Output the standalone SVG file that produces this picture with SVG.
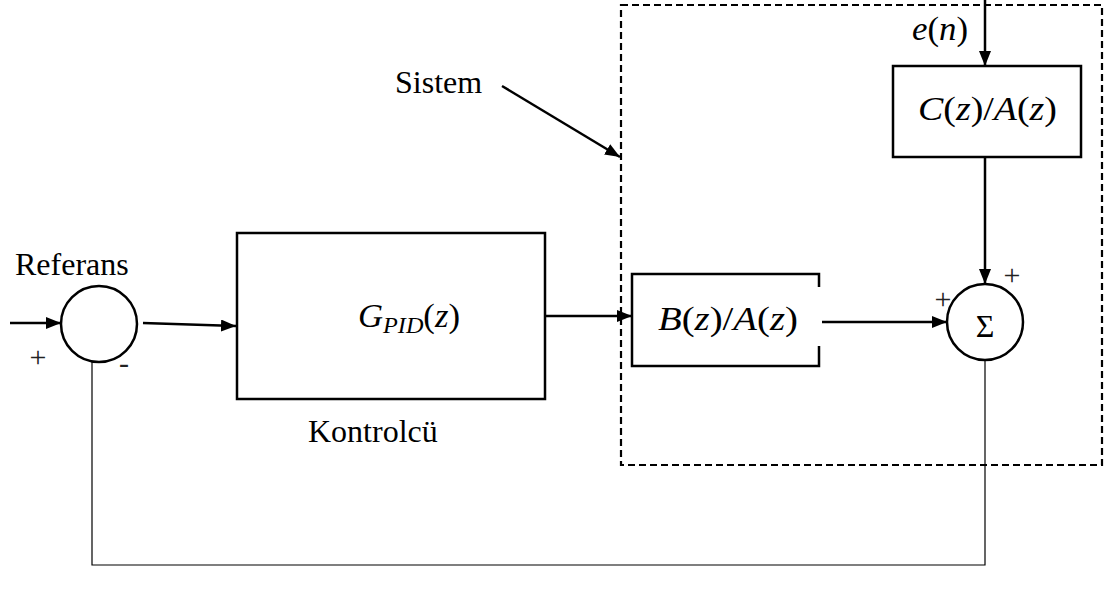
<svg xmlns="http://www.w3.org/2000/svg" width="1106" height="595" viewBox="0 0 1106 595">
  <defs>
    <marker id="arrow" viewBox="0 0 15 12" refX="15" refY="6" markerWidth="15" markerHeight="12" markerUnits="userSpaceOnUse" orient="auto">
      <path d="M0,0 L15,6 L0,12 Z" fill="#000"/>
    </marker>
    <style>
      .blk { fill: #fff; stroke: #000; stroke-width: 2.5; }
      .wire { fill: none; stroke: #000; stroke-width: 2.5; }
      .thin { fill: none; stroke: #000; stroke-width: 1.2; }
      .dash { fill: none; stroke: #000; stroke-width: 2.2; stroke-dasharray: 7 4; }
      .lbl { font-family: "Liberation Serif", "Times New Roman", serif; font-size: 32px; fill: #000; }
      .math { font-family: "Liberation Serif", "DejaVu Serif", serif; font-size: 33px; fill: #000; }
      .it { font-style: italic; }
      .sign { font-family: "Liberation Serif", serif; font-size: 30px; fill: #222; }
    </style>
  </defs>

  <!-- system boundary -->
  <rect id="system-boundary" class="dash" x="621" y="5" width="481" height="460"/>

  <!-- connectors -->
  <g id="connectors">
    <line class="wire" x1="10" y1="323" x2="61" y2="323" marker-end="url(#arrow)"/>
    <line class="wire" x1="143" y1="323" x2="236" y2="326" marker-end="url(#arrow)"/>
    <line class="wire" x1="545" y1="316" x2="632" y2="316" marker-end="url(#arrow)"/>
    <line class="wire" x1="822" y1="322" x2="947" y2="322" marker-end="url(#arrow)"/>
    <line class="wire" x1="985" y1="0" x2="985" y2="66" marker-end="url(#arrow)"/>
    <line class="wire" x1="985" y1="157" x2="985" y2="284" marker-end="url(#arrow)"/>
    <line class="wire" x1="502" y1="86" x2="620" y2="157" marker-end="url(#arrow)"/>
    <polyline class="thin" points="985,360 985,565 92,565 92,362"/>
  </g>

  <!-- reference summing junction -->
  <g id="sum-ref">
    <circle class="blk" cx="99" cy="324" r="38"/>
    <text class="sign" x="38" y="367" text-anchor="middle">+</text>
    <text class="sign" x="124" y="373" text-anchor="middle">-</text>
  </g>
  <text id="label-referans" class="lbl" x="15" y="275">Referans</text>

  <!-- controller -->
  <g id="controller">
    <rect class="blk" x="237" y="233" width="308" height="166"/>
    <text class="math" x="358" y="327" textLength="102" lengthAdjust="spacingAndGlyphs"><tspan class="it">G</tspan><tspan class="it" font-size="23" dy="6">PID</tspan><tspan dy="-6">(</tspan><tspan class="it">z</tspan>)</text>
  </g>
  <text id="label-kontrolcu" class="lbl" x="308" y="442">Kontrolcü</text>

  <!-- plant B/A: open bracket on the right -->
  <g id="plant">
    <path class="wire" d="M819,287 V274 H632 V366 H819 V346"/>
    <text class="math" x="658" y="330" textLength="140" lengthAdjust="spacingAndGlyphs"><tspan class="it">B</tspan>(<tspan class="it">z</tspan>)/<tspan class="it">A</tspan>(<tspan class="it">z</tspan>)</text>
  </g>

  <!-- disturbance filter C/A -->
  <g id="disturbance">
    <rect class="blk" x="893" y="66" width="188" height="91"/>
    <text class="math" x="918" y="120" textLength="139" lengthAdjust="spacingAndGlyphs"><tspan class="it">C</tspan>(<tspan class="it">z</tspan>)/<tspan class="it">A</tspan>(<tspan class="it">z</tspan>)</text>
  </g>
  <text id="label-noise" class="math" x="912" y="40" textLength="56" lengthAdjust="spacingAndGlyphs"><tspan class="it">e</tspan>(<tspan class="it">n</tspan>)</text>

  <!-- output summing junction -->
  <g id="sum-out">
    <circle class="blk" cx="985" cy="322" r="38"/>
    <text class="lbl" x="985" y="337" text-anchor="middle" font-size="34">Σ</text>
    <text class="sign" x="1012" y="285" text-anchor="middle">+</text>
    <text class="sign" x="943" y="309" text-anchor="middle">+</text>
  </g>

  <text id="label-sistem" class="lbl" x="395" y="93">Sistem</text>
</svg>
